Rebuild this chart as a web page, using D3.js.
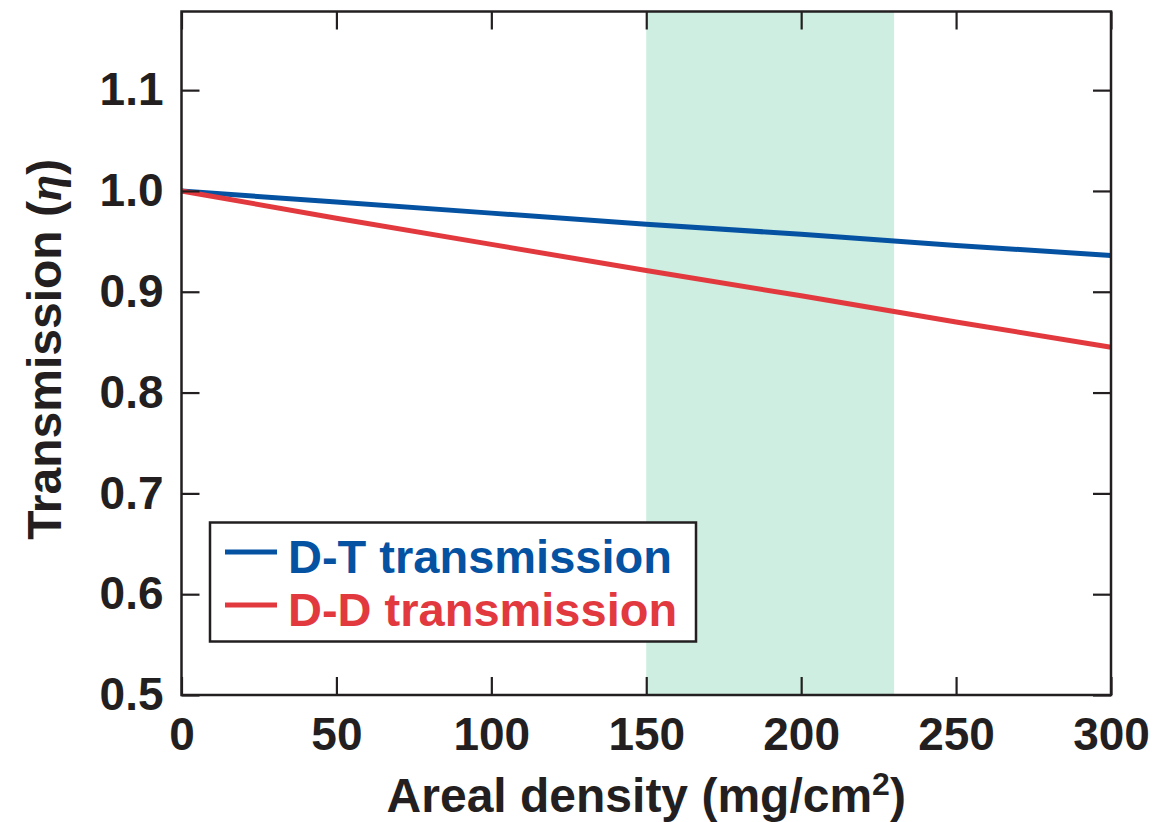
<!DOCTYPE html>
<html>
<head>
<meta charset="utf-8">
<script src="https://cdn.jsdelivr.net/npm/d3@7"></script>
<style>
  html, body { margin: 0; padding: 0; background: #fff; }
  svg { display: block; }
  text { font-family: "Liberation Sans", Arial, Helvetica, sans-serif; font-weight: bold; fill: #231f20; }
</style>
</head>
<body>
<svg id="chart" width="1156" height="822"></svg>
<script>
// ---- data ----
const arealDensity = [0, 50, 100, 150, 200, 250, 300];
const dtTransmission = [1.000, 0.989, 0.978, 0.967, 0.957, 0.946, 0.936];
const ddTransmission = [1.000, 0.973, 0.947, 0.921, 0.896, 0.870, 0.845];
const shadedRange = [150, 230];
const xTicks = [0, 50, 100, 150, 200, 250, 300];
const yTicks = [0.5, 0.6, 0.7, 0.8, 0.9, 1.0, 1.1];
const xDomain = [0, 300];
const yDomain = [0.5, 1.178];
const seriesNames = ["D-T transmission", "D-D transmission"];

// ---- layout ----
const svg = d3.select("#chart");
const L = 181.5, R = 1111, T = 11.5, B = 695;
const x = d3.scaleLinear().domain(xDomain).range([L, R]);
const y = d3.scaleLinear().domain(yDomain).range([B, T]);
const ink = "#231f20";
const colors = ["#0552a2", "#e2393f"];

// shaded band
svg.append("rect")
  .attr("x", x(shadedRange[0])).attr("y", T)
  .attr("width", x(shadedRange[1]) - x(shadedRange[0]))
  .attr("height", B - T)
  .attr("fill", "#cdeee0");

// lines
const line = d3.line().x((d, i) => x(arealDensity[i])).y(d => y(d));
[dtTransmission, ddTransmission].forEach((s, i) => {
  svg.append("path").datum(s)
    .attr("d", line)
    .attr("fill", "none")
    .attr("stroke", colors[i])
    .attr("stroke-width", 5);
});

// axes
const tickLen = 18;
function styleAxis(g) {
  g.select(".domain").remove();
  g.selectAll(".tick line").attr("stroke", ink).attr("stroke-width", 2.2);
}
const gx = svg.append("g").attr("transform", `translate(0,${B})`)
  .call(d3.axisBottom(x).tickValues(xTicks).tickSize(-tickLen).tickPadding(22).tickFormat(d3.format("d")));
styleAxis(gx);
gx.selectAll("text").attr("font-size", 46).attr("fill", ink)
  .attr("font-family", "Liberation Sans, Arial, sans-serif").attr("font-weight", "bold");

const gxt = svg.append("g").attr("transform", `translate(0,${T})`)
  .call(d3.axisTop(x).tickValues(xTicks).tickSize(-tickLen).tickFormat(""));
styleAxis(gxt);

const gy = svg.append("g").attr("transform", `translate(${L},0)`)
  .call(d3.axisLeft(y).tickValues(yTicks).tickSize(-tickLen).tickPadding(18).tickFormat(d3.format(".1f")));
styleAxis(gy);
gy.selectAll("text").attr("font-size", 46).attr("fill", ink)
  .attr("font-family", "Liberation Sans, Arial, sans-serif").attr("font-weight", "bold");

const gyr = svg.append("g").attr("transform", `translate(${R},0)`)
  .call(d3.axisRight(y).tickValues(yTicks).tickSize(-tickLen).tickFormat(""));
styleAxis(gyr);

// frame
svg.append("rect")
  .attr("x", L).attr("y", T).attr("width", R - L).attr("height", B - T)
  .attr("fill", "none").attr("stroke", ink).attr("stroke-width", 2.5);

// axis titles
const xt = svg.append("text")
  .attr("x", (L + R) / 2).attr("y", 812)
  .attr("text-anchor", "middle").attr("font-size", 48);
xt.append("tspan").text("Areal density (mg/cm");
xt.append("tspan").text("2").attr("font-size", 32).attr("dy", -17);
xt.append("tspan").text(")").attr("dy", 17);

const yt = svg.append("text")
  .attr("transform", `translate(61,${(T + B) / 2 - 4}) rotate(-90)`)
  .attr("text-anchor", "middle").attr("font-size", 48);
yt.append("tspan").text("Transmission (");
yt.append("tspan").text("η").attr("font-style", "italic")
  .attr("font-family", "Liberation Serif, Times New Roman, serif");
yt.append("tspan").text(")");

// legend
const lg = svg.append("g");
lg.append("rect")
  .attr("x", 210).attr("y", 522.5).attr("width", 486).attr("height", 119)
  .attr("fill", "#fff").attr("stroke", ink).attr("stroke-width", 2.5);
const legY = [552, 605];
seriesNames.forEach((name, i) => {
  lg.append("line")
    .attr("x1", 225).attr("x2", 277).attr("y1", legY[i]).attr("y2", legY[i])
    .attr("stroke", colors[i]).attr("stroke-width", 5);
  lg.append("text")
    .attr("x", 288).attr("y", legY[i] + 21)
    .attr("font-size", 47).style("fill", colors[i])
    .text(name);
});
</script>
</body>
</html>
